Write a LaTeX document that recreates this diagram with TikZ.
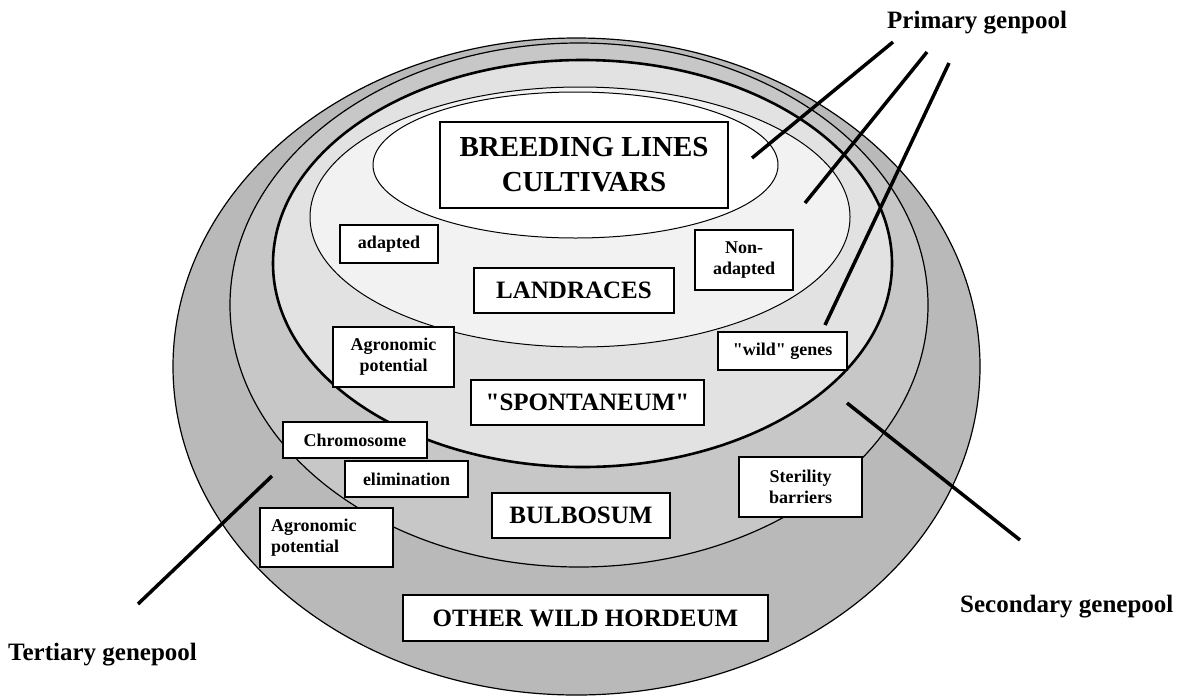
\documentclass[tikz,border=0pt]{standalone}
\usepackage{fontspec}
\setmainfont{Liberation Serif}[Ligatures=TeXOff]
\usetikzlibrary{positioning}

\begin{document}
\begin{tikzpicture}[x=1pt,y=-1pt,
    pool/.style={draw=black, line width=1.2pt},
    lbl/.style={draw=black, fill=white, line width=1.4pt, inner sep=0pt, align=center,
      font=\bfseries\fontsize{18}{21}\selectfont},
    big/.style={lbl, font=\bfseries\fontsize{25}{27}\selectfont},
    lead/.style={line width=3.5pt},
    pooltxt/.style={font=\bfseries\fontsize{25}{27}\selectfont, anchor=base west, inner sep=0pt}]
  \useasboundingbox (0,0) rectangle (1190,697);

  % genepools, outside in
  \draw[pool, fill=gray!55] (576.5,366.5) ellipse [x radius=403.5, y radius=328.5];
  \draw[pool, fill=gray!44] (579,305) ellipse [x radius=349, y radius=262];
  \draw[pool, line width=2.6pt, fill=gray!23] (582.5,263.5) ellipse [x radius=309.5, y radius=203.5];
  \draw[pool, line width=1pt, fill=gray!10] (580,217) ellipse [x radius=270, y radius=130];
  \draw[pool, line width=1pt, fill=white] (575.5,165) ellipse [x radius=202.5, y radius=73];

  \node[lbl, minimum width=288, minimum height=86, font=\bfseries\fontsize{29}{35}\selectfont] (breed) at (584,165) {BREEDING LINES\\CULTIVARS};
  \node[lbl, minimum width=98, minimum height=38] (adapt) at (389,244) {adapted};
  \node[lbl, minimum width=98, minimum height=60] (nonadapt) at (744,260) {Non-\\adapted};
  \node[big, minimum width=200, minimum height=45] (landr) at (574,290.5) {LANDRACES};
  \node[lbl, minimum width=121, minimum height=60] (agroA) at (393.5,357) {Agronomic\\potential};
  \node[lbl, minimum width=129, minimum height=38] (wild) at (782.5,351) {"wild" genes};
  \node[big, minimum width=233, minimum height=45] (spont) at (587.5,402.5) {"SPONTANEUM"};
  \node[lbl, minimum width=144, minimum height=36] (chrom) at (355,440) {Chromosome};
  \node[lbl, minimum width=123, minimum height=36] (elim) at (406.5,479) {elimination};
  \node[lbl, minimum width=133, minimum height=59, align=left, text width=111] (agroB) at (326.5,537.5) {Agronomic\\potential};
  \node[big, minimum width=178, minimum height=45] (bulb) at (581,515.5) {BULBOSUM};
  \node[lbl, minimum width=123, minimum height=60] (steril) at (800.5,487) {Sterility\\barriers};
  \node[big, minimum width=365, minimum height=46] (other) at (585.5,618) {OTHER WILD HORDEUM};

  \node[pooltxt] (prim) at (887,28) {Primary genpool};
  \node[pooltxt] (sec) at (960,612) {Secondary genepool};
  \node[pooltxt] (tert) at (8,660) {Tertiary genepool};

  \coordinate (pA) at (893,42);
  \coordinate (pAe) at (752,158);
  \coordinate (pB) at (927,52);
  \coordinate (pBe) at (805,203);
  \coordinate (pC) at (949,63);
  \coordinate (pCe) at (825,325);
  \coordinate (sA) at (1020,540);
  \coordinate (sAe) at (847,403);
  \coordinate (tA) at (138,604);
  \coordinate (tAe) at (272,476);

  \draw[lead] (pA) -- (pAe);
  \draw[lead] (pB) -- (pBe);
  \draw[lead] (pC) -- (pCe);
  \draw[lead] (sA) -- (sAe);
  \draw[lead] (tA) -- (tAe);
\end{tikzpicture}
\end{document}
